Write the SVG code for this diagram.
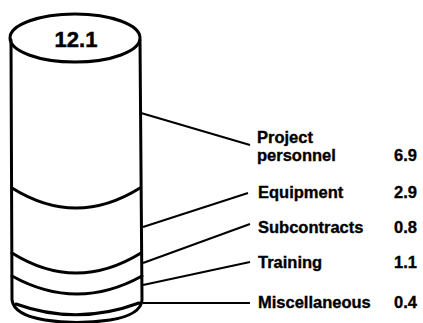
<svg xmlns="http://www.w3.org/2000/svg" width="423" height="323" viewBox="0 0 423 323">
<style>
.outline{fill:none;stroke:#000;stroke-width:3;stroke-linecap:round;stroke-linejoin:round}
.conn{fill:none;stroke:#000;stroke-width:2}
.lbl{font-family:"Liberation Sans","Arial",sans-serif;font-weight:700;font-size:16.5px;fill:#000;stroke:#000;stroke-width:0.35}
.num{font-family:"Liberation Sans","Arial",sans-serif;font-weight:700;font-size:16.5px;fill:#000;stroke:#000;stroke-width:0.35;text-anchor:end}
.big{font-family:"Liberation Sans","Arial",sans-serif;font-weight:700;font-size:22px;fill:#000;stroke:#000;stroke-width:0.5;text-anchor:middle}
</style>
<rect width="423" height="323" fill="#fff"/>
<g id="cylinder">
<ellipse class="outline" cx="75" cy="38" rx="65" ry="24"/>
<path class="outline" d="M11 40 L12 300 Q14 315 45 320 Q76 325 110 320 Q141 315 142 300 L140 40"/>
<path class="outline" d="M12 188 Q76 228 140 188"/>
<path class="outline" d="M12 253 Q76 293 141 253"/>
<path class="outline" d="M12 276 Q77 312 142 276"/>
<path class="outline" d="M16 304 Q77 326 139 303" stroke-width="2.2"/>
<text class="big" x="76" y="47">12.1</text>
</g>
<g id="connectors">
<line class="conn" x1="141" y1="113" x2="250" y2="145"/>
<line class="conn" x1="143" y1="227" x2="248" y2="193"/>
<line class="conn" x1="143" y1="263" x2="250" y2="224"/>
<line class="conn" x1="143" y1="285" x2="250" y2="262"/>
<line class="conn" x1="143" y1="303" x2="250" y2="303"/>
</g>
<g id="project-personnel">
<text class="lbl" x="257" y="143">Project</text>
<text class="lbl" x="257" y="161">personnel</text>
<text class="num" x="417" y="161">6.9</text>
</g>
<g id="equipment">
<text class="lbl" x="258" y="198">Equipment</text>
<text class="num" x="417" y="198">2.9</text>
</g>
<g id="subcontracts">
<text class="lbl" x="258" y="233">Subcontracts</text>
<text class="num" x="417" y="233">0.8</text>
</g>
<g id="training">
<text class="lbl" x="258" y="268">Training</text>
<text class="num" x="417" y="268">1.1</text>
</g>
<g id="miscellaneous">
<text class="lbl" x="258" y="308">Miscellaneous</text>
<text class="num" x="417" y="308">0.4</text>
</g>
</svg>
